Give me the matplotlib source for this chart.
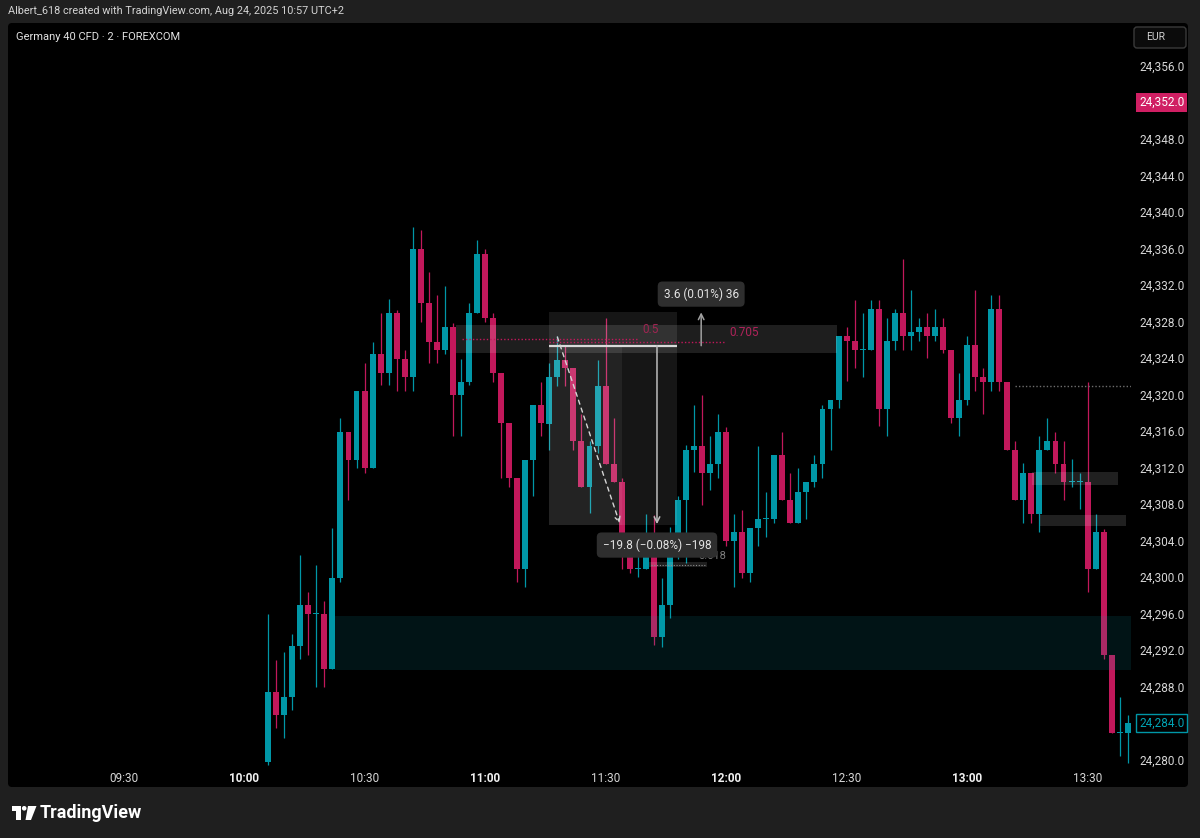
import matplotlib.pyplot as plt
from matplotlib.patches import Rectangle, FancyBboxPatch, Polygon, Circle
from matplotlib.transforms import blended_transform_factory

plt.rcParams['font.family'] = ['Roboto', 'DejaVu Sans']

# 2-minute candles, first one at 10:06
opens = [24279.7, 24287.4, 24284.9, 24286.9, 24292.4, 24296.9, 24295.9, 24295.9, 24289.9, 24299.9,
         24315.9, 24312.8, 24320.4, 24311.9, 24324.4, 24322.4, 24328.9, 24323.9, 24321.9, 24335.9,
         24330.0, 24325.8, 24324.9, 24327.4, 24319.9, 24321.4, 24328.9, 24335.4, 24328.4, 24322.4,
         24316.9, 24310.8, 24300.9, 24312.8, 24318.9, 24316.8, 24321.9, 24323.8, 24322.9, 24314.9,
         24309.9, 24314.4, 24320.9, 24312.4, 24310.4, 24302.4, 24300.9, 24300.9, 24302.4, 24293.4,
         24296.9, 24302.4, 24308.4, 24313.9, 24314.4, 24311.4, 24312.4, 24315.9, 24303.9, 24304.9,
         24300.4, 24305.4, 24306.4, 24306.4, 24313.4, 24308.4, 24305.9, 24309.3, 24310.4, 24312.4,
         24318.4, 24319.4, 24326.4, 24325.9, 24324.9, 24324.9, 24329.4, 24318.4, 24325.9, 24328.9,
         24326.4, 24326.9, 24327.4, 24326.4, 24327.4, 24324.9, 24317.4, 24319.4, 24325.4, 24321.9,
         24321.4, 24329.4, 24321.4, 24313.9, 24308.4, 24311.4, 24306.9, 24313.9, 24314.9, 24312.4,
         24310.4, 24310.4, 24310.4, 24300.9, 24304.9, 24291.4, 24282.9, 24282.9]
highs = [24295.9, 24290.9, 24291.8, 24293.8, 24302.4, 24298.4, 24301.3, 24297.4, 24305.4, 24317.4,
         24315.9, 24320.4, 24323.4, 24325.8, 24328.9, 24330.5, 24329.3, 24324.9, 24338.4, 24338.0,
         24333.4, 24330.9, 24331.9, 24327.8, 24323.9, 24330.0, 24336.9, 24335.9, 24328.9, 24322.4,
         24316.9, 24310.8, 24312.8, 24318.9, 24321.4, 24323.4, 24326.4, 24325.4, 24322.9, 24317.9,
         24314.9, 24323.8, 24328.4, 24317.4, 24310.9, 24304.0, 24302.4, 24306.9, 24306.8, 24299.9,
         24305.5, 24308.9, 24314.5, 24318.9, 24319.9, 24315.4, 24317.9, 24316.4, 24306.9, 24307.3,
         24305.4, 24314.4, 24309.3, 24313.4, 24315.9, 24311.4, 24311.9, 24310.4, 24313.4, 24318.9,
         24319.4, 24326.4, 24327.4, 24330.4, 24328.9, 24330.4, 24330.4, 24328.4, 24329.4, 24334.9,
         24331.4, 24328.4, 24328.9, 24329.4, 24328.4, 24324.9, 24322.4, 24326.4, 24331.4, 24322.9,
         24330.9, 24330.9, 24321.4, 24314.9, 24312.5, 24311.4, 24315.4, 24317.4, 24315.9, 24314.9,
         24312.9, 24311.4, 24321.4, 24306.9, 24305.3, 24291.4, 24286.9, 24284.9]
lows = [24279.4, 24283.4, 24282.4, 24285.4, 24291.0, 24291.4, 24288.0, 24288.0, 24289.9, 24299.4,
        24308.4, 24312.0, 24311.4, 24311.9, 24321.0, 24321.0, 24320.4, 24320.4, 24320.4, 24327.9,
        24323.4, 24323.4, 24324.4, 24315.4, 24315.4, 24321.0, 24328.9, 24327.9, 24321.4, 24310.8,
        24309.9, 24299.4, 24298.9, 24308.9, 24315.4, 24313.9, 24320.9, 24320.9, 24313.9, 24309.9,
        24307.0, 24313.6, 24312.4, 24310.4, 24300.9, 24300.4, 24300.0, 24300.9, 24292.5, 24292.3,
        24295.5, 24302.0, 24301.5, 24311.5, 24307.9, 24309.5, 24310.9, 24303.4, 24298.9, 24299.9,
        24299.5, 24303.4, 24304.4, 24305.9, 24308.4, 24305.9, 24305.9, 24306.4, 24309.9, 24310.9,
        24313.9, 24318.5, 24321.5, 24322.9, 24321.9, 24324.9, 24316.5, 24315.4, 24324.9, 24324.9,
        24324.9, 24325.9, 24324.0, 24325.9, 24324.5, 24316.9, 24315.4, 24318.9, 24320.4, 24317.9,
        24320.4, 24320.4, 24313.9, 24308.4, 24305.9, 24305.9, 24304.9, 24313.9, 24311.4, 24308.4,
        24309.9, 24307.4, 24298.4, 24300.9, 24291.0, 24282.9, 24280.4, 24279.6]
closes = [24287.4, 24284.9, 24286.9, 24292.4, 24296.9, 24295.9, 24295.9, 24289.9, 24299.9, 24315.9,
          24312.8, 24320.4, 24311.9, 24324.4, 24322.4, 24328.9, 24323.9, 24321.9, 24335.9, 24330.0,
          24325.8, 24324.9, 24327.4, 24319.9, 24321.4, 24328.9, 24335.4, 24328.4, 24322.4, 24316.9,
          24310.8, 24300.9, 24312.8, 24318.9, 24316.9, 24321.9, 24323.8, 24322.9, 24314.9, 24309.9,
          24314.4, 24320.9, 24312.4, 24310.4, 24302.4, 24300.9, 24300.9, 24302.4, 24293.4, 24296.9,
          24302.4, 24308.4, 24313.9, 24314.4, 24311.4, 24312.4, 24315.9, 24303.9, 24304.9, 24300.4,
          24305.4, 24306.4, 24306.4, 24313.4, 24308.4, 24305.9, 24309.3, 24310.4, 24312.4, 24318.4,
          24319.4, 24326.4, 24325.9, 24324.9, 24324.9, 24329.4, 24318.4, 24325.9, 24328.9, 24326.4,
          24326.9, 24327.4, 24326.4, 24327.4, 24324.9, 24317.4, 24319.4, 24325.4, 24321.9, 24321.4,
          24329.4, 24321.4, 24313.9, 24308.4, 24311.4, 24306.9, 24313.9, 24314.9, 24312.4, 24310.4,
          24310.4, 24310.4, 24300.9, 24304.9, 24291.4, 24282.9, 24282.9, 24284.0]

time_labels = ['09:30', '10:00', '10:30', '11:00', '11:30', '12:00', '12:30', '13:00', '13:30']
time_ticks = [-18, -3, 12, 27, 42, 57, 72, 87, 102]   # candle index of each label
price_ticks = list(range(24280, 24357, 4))
alert_price = 24352.0
last_price = 24284.0

# drawing tools (candle index / price)
zone = (8.35, 24289.8, 24295.7)
fib_band = (23.4, 70.8, 24324.5, 24327.6)
range_box = (34.9, 50.95, 24305.7, 24329.0)
range_top = 24325.35
up_label = '3.6 (0.01%) 36'
down_label = '\u221219.8 (\u22120.08%) \u2212198'

up_c, dn_c = '#0097a7', '#c2185b'

fig = plt.figure(figsize=(12, 8.38), dpi=100, facecolor='#1f1f1f')
bg = fig.add_axes([0, 0, 1, 1], zorder=0)
bg.set_xlim(0, 1200)
bg.set_ylim(838, 0)
bg.axis('off')
bg.add_patch(FancyBboxPatch((8, 23), 1180, 764, boxstyle='round,pad=0,rounding_size=4',
                            fc='black', ec='none'))
bg.text(8, 10.5, 'Albert_618 created with TradingView.com, Aug 24, 2025 10:57 UTC+2',
        color='#d4d4d4', fontsize=7.8, va='center')
bg.text(16, 36.5, 'Germany 40 CFD \u00b7 2 \u00b7 FOREXCOM', color='#e2e2e2', fontsize=8, va='center')
bg.add_patch(FancyBboxPatch((1134, 27), 52, 21, boxstyle='round,pad=0,rounding_size=3',
                            fc='#0b0b0b', ec='#3a3a3a', lw=1))
bg.text(1146, 37.5, 'EUR', color='#d0d0d0', fontsize=7.5, va='center')
# logo
bg.add_patch(Rectangle((12, 806), 8.5, 4.5, fc='white', ec='none'))
bg.add_patch(Rectangle((16, 806), 4.5, 14, fc='white', ec='none'))
bg.add_patch(Circle((24.2, 808.3), 2.3, fc='white', ec='none'))
bg.add_patch(Polygon([(28, 806), (36.5, 806), (31, 820), (25.5, 820)], fc='white', ec='none'))
bg.text(40, 813, 'TradingView', color='white', fontsize=13, fontweight='bold', va='center')

ax = fig.add_axes([10 / 1200, 1 - 766 / 838, 1121 / 1200, 743 / 838], zorder=1)
ax.set_facecolor('none')
for s in ax.spines.values():
    s.set_visible(False)

xs = list(range(len(opens)))
cols = [up_c if c >= o else dn_c for o, c in zip(opens, closes)]
ax.vlines(xs, lows, highs, colors=cols, lw=0.9, zorder=3)
bottoms = [min(o, c) for o, c in zip(opens, closes)]
heights = [max(abs(c - o), 0.12) for o, c in zip(opens, closes)]
ax.bar(xs, heights, bottom=bottoms, width=0.74, color=cols, zorder=3, linewidth=0)

# zones and tools
ax.add_patch(Rectangle((zone[0], zone[1]), 107.4 - zone[0], zone[2] - zone[1],
                       fc='#0aa0ad', alpha=0.13, ec='none', zorder=4))
ax.add_patch(Rectangle((fib_band[0], fib_band[2]), fib_band[1] - fib_band[0], fib_band[3] - fib_band[2],
                       fc='white', alpha=0.12, ec='none', zorder=4))
ax.add_patch(Rectangle((range_box[0], range_box[2]), range_box[1] - range_box[0],
                       range_box[3] - range_box[2], fc='white', alpha=0.09, ec='none', zorder=4))
ax.add_patch(Rectangle((range_box[0], range_box[2]), 9.2, range_top - range_box[2],
                       fc='white', alpha=0.06, ec='none', zorder=4))
ax.hlines(24326.1, 24.1, 45.85, colors=dn_c, linestyles=(0, (1, 1.5)), lw=1, zorder=5)
ax.hlines(24325.7, 34.9, 56.8, colors=dn_c, linestyles=(0, (1, 1.5)), lw=1, zorder=5)
ax.text(47.6, 24327.1, '0.5', color='#a02552', fontsize=8.5, ha='center', va='center', zorder=5)
ax.text(59.3, 24326.75, '0.705', color='#b0235a', fontsize=8.5, ha='center', va='center', zorder=5)
ax.hlines(range_top, range_box[0], range_box[1], colors='#d9d9d9', lw=1.6, zorder=6)

ax.annotate('', xy=(48.4, range_box[2] + 0.1), xytext=(48.4, range_top),
            arrowprops=dict(arrowstyle='->', color='#bdbdbd', lw=1.1, shrinkA=0, shrinkB=0,
                            mutation_scale=10), zorder=6)
ax.annotate('', xy=(53.9, range_box[3]), xytext=(53.9, range_top),
            arrowprops=dict(arrowstyle='->', color='#a0a0a0', lw=1.1, shrinkA=0, shrinkB=0,
                            mutation_scale=10), zorder=6)
ax.annotate('', xy=(43.75, 24305.9), xytext=(36, 24326.3),
            arrowprops=dict(arrowstyle='->', color='#d5d5d5', lw=1.0, ls=(0, (3, 3)),
                            shrinkA=0, shrinkB=0, mutation_scale=9), zorder=6)

ax.add_patch(Rectangle((47.45, 24301.1), 7.2, 0.55, fc='white', alpha=0.12, ec='none', zorder=5))
ax.hlines(24301.35, 47.6, 54.5, colors='#8c8c8c', linestyles=(0, (1, 1.5)), lw=0.8, zorder=5)
ax.text(55.3, 24302.3, '0.618', color='#7d7d7d', fontsize=8, ha='center', va='center', zorder=5)

box = dict(boxstyle='round,pad=0.5,rounding_size=0.4', fc='#2e2e2e', ec='none')
ax.text(53.9, 24331.0, up_label, color='#e4e4e4', fontsize=8.5, ha='center', va='center',
        bbox=box, zorder=8)
ax.text(48.4, 24303.5, down_label, color='#e4e4e4', fontsize=8.5, ha='center', va='center',
        bbox=box, zorder=8)

ax.hlines(24320.97, 92.9, 107.4, colors='#6e6e6e', linestyles=(0, (1, 1.5)), lw=1, zorder=5)
ax.add_patch(Rectangle((95.1, 24310.1), 10.7, 1.4, fc='white', alpha=0.13, ec='none', zorder=5))
ax.add_patch(Rectangle((96.1, 24305.6), 10.7, 1.2, fc='white', alpha=0.13, ec='none', zorder=5))

ax.set_xlim(-32.13, 107.4)
ax.set_ylim(24279.29, 24360.71)

ax.yaxis.tick_right()
ax.set_yticks(price_ticks)
ax.set_yticklabels([f'{p:,.1f}' for p in price_ticks])
ax.tick_params(axis='y', length=0, pad=6, labelcolor='#d6d6d6', labelsize=8.5)
ax.set_xticks(time_ticks)
ax.set_xticklabels(time_labels)
ax.tick_params(axis='x', length=0, pad=4, labelcolor='#d6d6d6', labelsize=8.5)
for lab in ax.get_xticklabels():
    if lab.get_text().endswith(':00'):
        lab.set_fontweight('bold')
        lab.set_color('#f0f0f0')

trans = blended_transform_factory(ax.transAxes, ax.transData)
ax.text(1.0071, alert_price, f'{alert_price:,.1f}', transform=trans, color='white', fontsize=8.5,
        va='center', ha='left', bbox=dict(boxstyle='square,pad=0.25', fc='#d01f63', ec='none'),
        zorder=9, clip_on=False)
ax.text(1.0071, last_price, f'{last_price:,.1f}', transform=trans, color='#00a3b4', fontsize=8.5,
        va='center', ha='left', bbox=dict(boxstyle='square,pad=0.25', fc='black', ec=up_c, lw=1),
        zorder=9, clip_on=False)

fig.savefig('out.png', dpi=100, facecolor=fig.get_facecolor())
